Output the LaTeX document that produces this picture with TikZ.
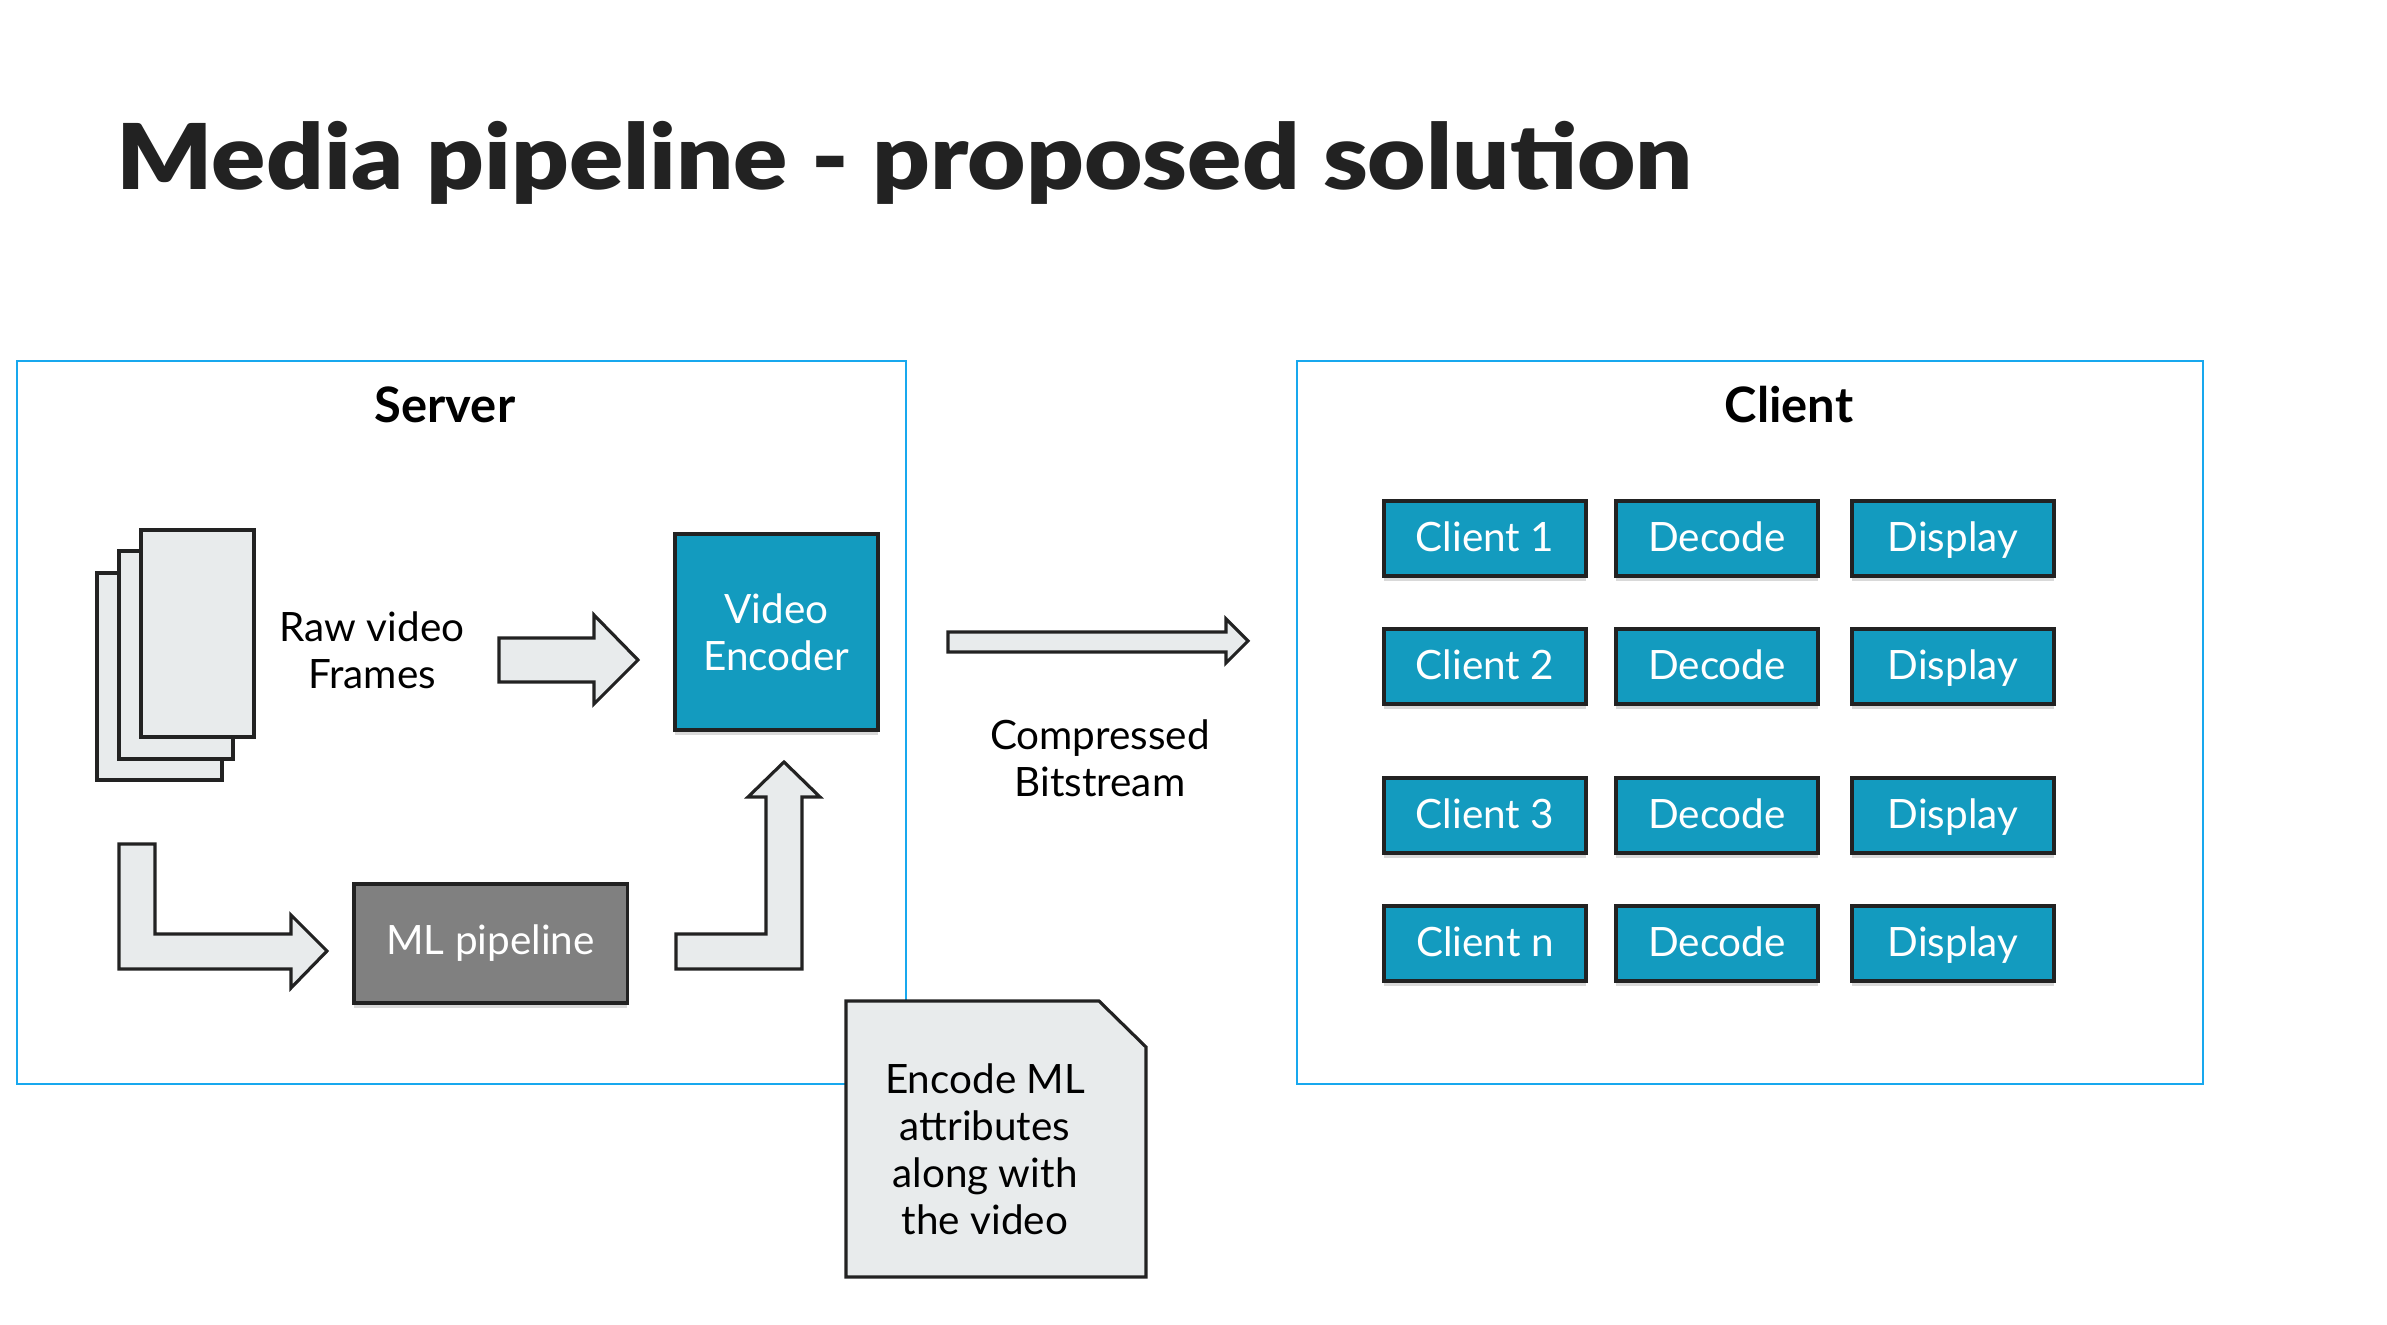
\documentclass[tikz,border=0pt]{standalone}
\usepackage{fontspec}
\setmainfont{Lato}
\newfontfamily\titlefont{Lato Black}
\usetikzlibrary{shadows,positioning}
\definecolor{tealbox}{RGB}{19,155,191}
\definecolor{paleblk}{RGB}{232,235,236}
\definecolor{mlgray}{RGB}{128,128,128}
\definecolor{frameblue}{RGB}{24,168,238}
\definecolor{ink}{RGB}{34,34,34}
\tikzstyle{zone} = [draw=frameblue, line width=0.7pt]
\tikzstyle{blockarrow} = [draw=ink, line width=0.9pt, fill=paleblk, line join=miter]
\tikzstyle{sheet} = [draw=ink, line width=0.9pt, fill=paleblk]
\tikzstyle{unit} = [draw=ink, line width=0.9pt, fill=tealbox, text=white, inner sep=0pt,
  drop shadow={shadow xshift=0pt, shadow yshift=-1.3pt, opacity=0.3}]
\tikzstyle{body} = [font=\fontsize{11.5}{13.4}\selectfont, align=center]
\tikzstyle{slot} = [unit, body, minimum width=2.02cm, minimum height=0.75cm, text height=0.92em, text depth=0.2em]

\begin{document}
\begin{tikzpicture}[x=0.01cm, y=-0.01cm]
\useasboundingbox (0,0) rectangle (2387,1325);

% title
\node[anchor=base west, inner sep=0pt, xscale=1.11, font=\titlefont\fontsize{25.8}{30}\selectfont, text=ink] (title) at (116,190) {Media pipeline - proposed solution};

% server and client areas
\draw[zone] (17,361) rectangle (906,1084);
\draw[zone] (1297,361) rectangle (2203,1084);
\node[font=\bfseries\fontsize{13.9}{16}\selectfont] (server) at (445,405) {Server};
\node[font=\bfseries\fontsize{13.9}{16}\selectfont] (client) at (1789,405) {Client};

% stack of frames
\draw[sheet] (97,573) rectangle (222,780);
\draw[sheet] (119,551) rectangle (233,759);
\draw[sheet] (141,530) rectangle (254,737);
\node[body] (raw) at (372,650) {Raw video\\Frames};

\node[unit, body, minimum width=2.03cm, minimum height=1.96cm] (encoder) at (776.5,632) {Video\\Encoder};
\node[unit, body, fill=mlgray, minimum width=2.73cm, minimum height=1.19cm] (mlpipe) at (490.5,943.5) {ML pipeline};

% block arrows
\draw[blockarrow] (499,638) -- (594,638) -- (594,615) -- (638,660) -- (594,704) -- (594,682) -- (499,682) -- cycle;
\draw[blockarrow] (119,844) -- (155,844) -- (155,934) -- (291,934) -- (291,915) -- (327,951) -- (291,988) -- (291,969) -- (119,969) -- cycle;
\draw[blockarrow] (676,934) -- (766,934) -- (766,797) -- (748,797) -- (784,762) -- (820,797) -- (802,797) -- (802,969) -- (676,969) -- cycle;
\draw[blockarrow] (948,632) -- (1226,632) -- (1226,619) -- (1248,641) -- (1226,663) -- (1226,652) -- (948,652) -- cycle;
\node[body] (bits) at (1100,758) {Compressed\\Bitstream};

% note
\draw[sheet] (846,1001) -- (1099,1001) -- (1146,1047) -- (1146,1277) -- (846,1277) -- cycle;
\node[body] (note) at (985,1149) {Encode ML\\attributes\\along with\\the video};

% clients
\foreach \y/\n in {538.5/1, 666.5/2, 815.5/3, 943.5/n} {
    \node[slot] (c\n) at (1485,\y) {Client \n};
    \node[slot] (dec\n) at (1717,\y) {Decode};
    \node[slot] (disp\n) at (1953,\y) {Display};
}
\end{tikzpicture}
\end{document}
